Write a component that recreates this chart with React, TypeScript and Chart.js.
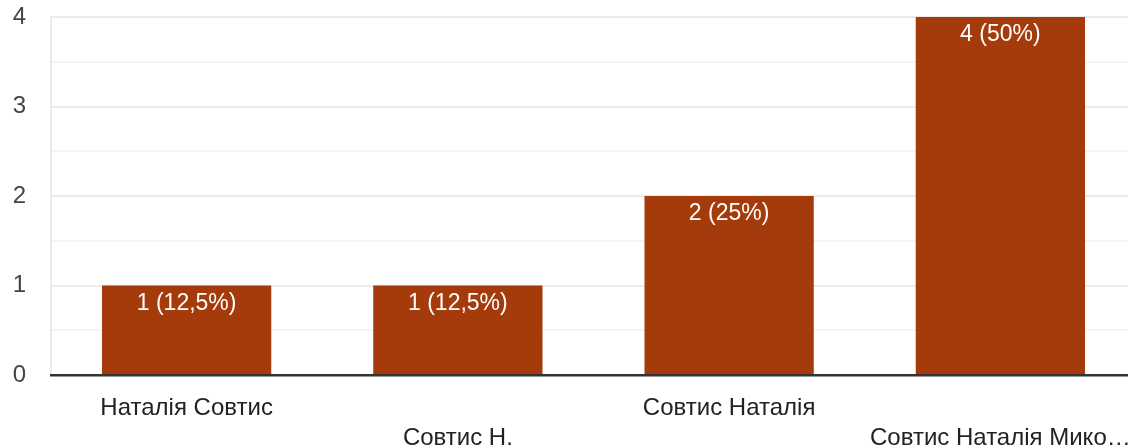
import React, { useEffect, useRef } from "react";
import { Chart, registerables } from "chart.js";

Chart.register(...registerables);

const categories: string[] = [
  "Наталія Совтис",
  "Совтис Н.",
  "Совтис Наталія",
  "Совтис Наталія Мико…",
];
const counts: number[] = [1, 1, 2, 4];
const valueLabels: string[] = ["1 (12,5%)", "1 (12,5%)", "2 (25%)", "4 (50%)"];
const yTickLabels: number[] = [0, 1, 2, 3, 4];

const BAR_COLOR = "#a53a0a";
const FONT = "'Liberation Sans', Arial, sans-serif";

const valueLabelPlugin = {
  id: "valueLabels",
  afterDatasetsDraw(chart: any) {
    const ctx = chart.ctx;
    const meta = chart.getDatasetMeta(0);
    ctx.save();
    ctx.font = `23px ${FONT}`;
    ctx.fillStyle = "#ffffff";
    ctx.textAlign = "center";
    ctx.textBaseline = "middle";
    meta.data.forEach((bar: any, i: number) => {
      ctx.fillText(valueLabels[i], bar.x, bar.y + 18);
    });
    ctx.restore();
  },
};

export default function App() {
  const ref = useRef<HTMLCanvasElement>(null);

  useEffect(() => {
    if (!ref.current) return;
    const chart = new Chart(ref.current, {
      type: "bar",
      data: {
        labels: categories,
        datasets: [
          {
            data: counts,
            backgroundColor: BAR_COLOR,
            borderWidth: 0,
            barPercentage: 0.624,
            categoryPercentage: 1,
          },
        ],
      },
      options: {
        animation: false,
        responsive: false,
        layout: { padding: { top: 17, right: 0, left: 0, bottom: 0 } },
        plugins: {
          legend: { display: false },
          tooltip: { enabled: false },
        },
        scales: {
          x: {
            grid: { display: false },
            border: { display: true, color: "#333333", width: 2.5, z: 1 },
            ticks: {
              autoSkip: false,
              maxRotation: 0,
              minRotation: 0,
              color: "#222222",
              padding: 10,
              font: { family: FONT, size: 24, lineHeight: "30px" },
              callback: (_v: any, i: number) =>
                i % 2 === 1 ? ["", categories[i]] : categories[i],
            },
            afterFit: (scale: any) => {
              scale.height = 72;
              scale.paddingLeft = 0;
              scale.paddingRight = 0;
            },
          },
          y: {
            min: 0,
            max: 4,
            grid: {
              color: (c: any) => {
                const v = c.tick?.value;
                if (v === 0) return "#333333";
                return Number.isInteger(v) ? "#ebebeb" : "#f4f4f4";
              },
              lineWidth: 2,
              drawTicks: false,
            },
            border: { display: true, color: "#ebebeb", width: 2 },
            ticks: {
              stepSize: 0.5,
              color: "#444444",
              padding: 25,
              font: { family: FONT, size: 24 },
              callback: (v: any) =>
                yTickLabels.includes(Number(v)) ? String(v) : "",
            },
            afterFit: (scale: any) => {
              scale.width = 51;
              scale.paddingTop = 0;
              scale.paddingBottom = 0;
            },
          },
        },
      },
      plugins: [valueLabelPlugin],
    });
    return () => chart.destroy();
  }, []);

  return (
    <div
      style={{
        position: "fixed",
        left: 0,
        top: 0,
        width: 1128,
        height: 447,
        overflow: "hidden",
        background: "#ffffff",
      }}
    >
      <canvas
        ref={ref}
        width={1136}
        height={447}
        style={{ width: 1136, height: 447, display: "block" }}
      />
    </div>
  );
}
